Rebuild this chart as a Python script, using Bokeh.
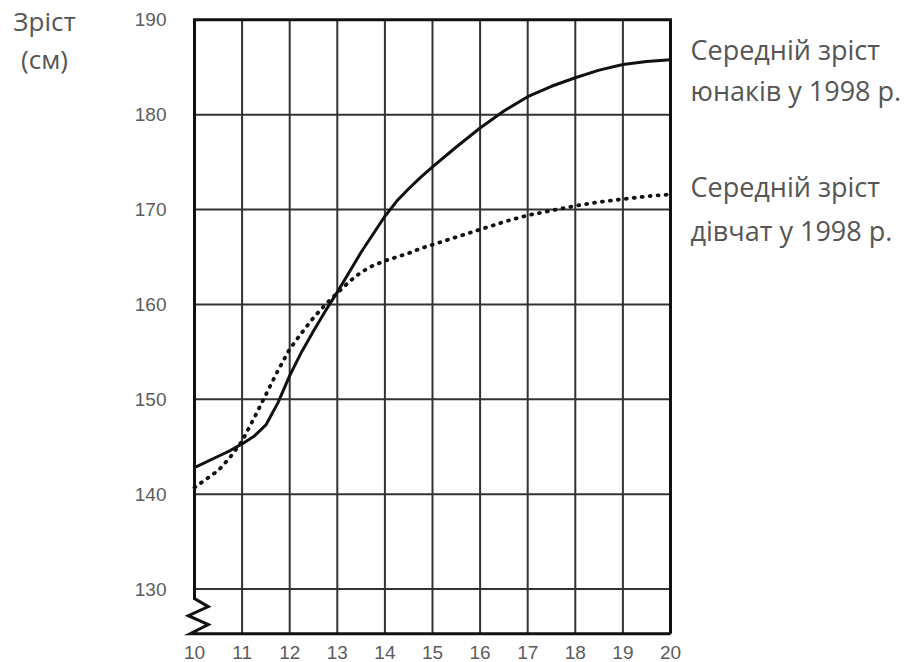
from bokeh.plotting import figure
from bokeh.layouts import row
from bokeh.models import Range1d, FixedTicker, Label
from bokeh.embed import file_html
from bokeh.resources import INLINE

# ---- data ----
ages = [10, 10.5, 10.75, 11, 11.25, 11.5, 11.75, 12, 12.25, 12.5, 12.75, 13,
        13.25, 13.5, 13.75, 14, 14.25, 14.5, 14.75, 15, 15.5, 16, 16.5, 17,
        17.5, 18, 18.5, 19, 19.5, 20]
boys = [142.8, 144.0, 144.6, 145.3, 146.1, 147.3, 149.6, 152.5, 155.0, 157.2,
        159.3, 161.3, 163.4, 165.5, 167.4, 169.3, 170.9, 172.2, 173.4, 174.5,
        176.6, 178.6, 180.4, 181.9, 183.0, 183.9, 184.7, 185.3, 185.6, 185.8]
girls = [140.7, 142.5, 143.9, 145.6, 148.0, 150.5, 153.0, 155.3, 157.0, 158.6,
         160.0, 161.2, 162.4, 163.4, 164.1, 164.6, 165.0, 165.4, 165.9, 166.3,
         167.1, 167.9, 168.7, 169.4, 169.9, 170.4, 170.8, 171.1, 171.4, 171.6]
x_ticks = [10, 11, 12, 13, 14, 15, 16, 17, 18, 19, 20]
y_ticks = [130, 140, 150, 160, 170, 180, 190]
y_title = ["Зріст", "(см)"]
boys_label = ["Середній зріст", "юнаків у 1998 р."]
girls_label = ["Середній зріст", "дівчат у 1998 р."]

x_min, x_max = x_ticks[0], x_ticks[-1]
y_top = y_ticks[-1]
y_bottom = 125.3

TXT = "#555555"
FONT = "Open Sans"

# ---- left strip holding the axis title (frame aligned with main frame: 0..636 px) ----
left = figure(width=100, height=662, output_backend="svg", toolbar_location=None,
              x_range=Range1d(0, 100), y_range=Range1d(636, 0),
              x_axis_type=None, y_axis_type=None,
              min_border_left=0, min_border_right=0, min_border_top=0,
              min_border_bottom=26)
left.title = None
left.outline_line_color = None
left.grid.visible = False
for txt, yb in zip(y_title, [20, 58.5]):
    left.add_layout(Label(x=44, y=yb, text=txt, text_font=FONT,
                          text_font_size="26px", text_color=TXT,
                          text_align="center", text_baseline="alphabetic"))

# ---- main chart ----
p = figure(width=808, height=662, output_backend="svg", toolbar_location=None,
           x_range=Range1d(9.706, 25.0), y_range=Range1d(125.0, 192.04),
           min_border_left=80, min_border_right=0, min_border_top=0,
           min_border_bottom=26)
p.outline_line_color = None
p.grid.visible = False
p.background_fill_color = "white"
p.border_fill_color = "white"

for ax, ticks, standoff in ((p.xaxis, x_ticks, 3), (p.yaxis, y_ticks, 8)):
    ax.ticker = FixedTicker(ticks=ticks)
    ax.axis_line_color = None
    ax.major_tick_line_color = None
    ax.minor_tick_line_color = None
    ax.major_label_text_font = "Liberation Sans"
    ax.major_label_text_font_size = "19px"
    ax.major_label_text_color = "#5c5c5c"
    ax.major_label_standoff = standoff

# grid lines (inside the chart box only)
hy = y_ticks[:-1]
p.segment(x0=[x_min] * len(hy), y0=hy, x1=[x_max] * len(hy), y1=hy,
          line_color="#333333", line_width=2)
vx = x_ticks[1:-1]
p.segment(x0=vx, y0=[y_bottom] * len(vx), x1=vx, y1=[y_top] * len(vx),
          line_color="#333333", line_width=2)

# frame with axis-break zigzag at bottom-left
zx = [x_max, x_max, x_min, x_min, x_min + 0.29, x_min - 0.13, x_min + 0.29,
      x_min - 0.09, x_max]
zy = [y_bottom, y_top, y_top, 129.0, 128.15, 127.2, 126.25, y_bottom, y_bottom]
p.line(zx, zy, line_color="#111111", line_width=3, line_join="miter")

# curves
p.line(ages, boys, line_color="#111111", line_width=3, line_join="round")
p.line(ages, girls, line_color="#111111", line_width=3.8, line_dash="1 7",
       line_cap="round")

def add_label(x, y, text):
    p.add_layout(Label(x=x, y=y, text=text, text_font=FONT,
                       text_font_size="27px", text_color=TXT,
                       text_align="left", text_baseline="alphabetic"))

lx = 20.42
add_label(lx, 186.83, boys_label[0])
add_label(lx, 182.52, boys_label[1])
add_label(lx, 172.45, girls_label[0])
add_label(lx, 167.82, girls_label[1])

layout = row(left, p, spacing=0)
open("out.html", "w").write(file_html(layout, INLINE))
